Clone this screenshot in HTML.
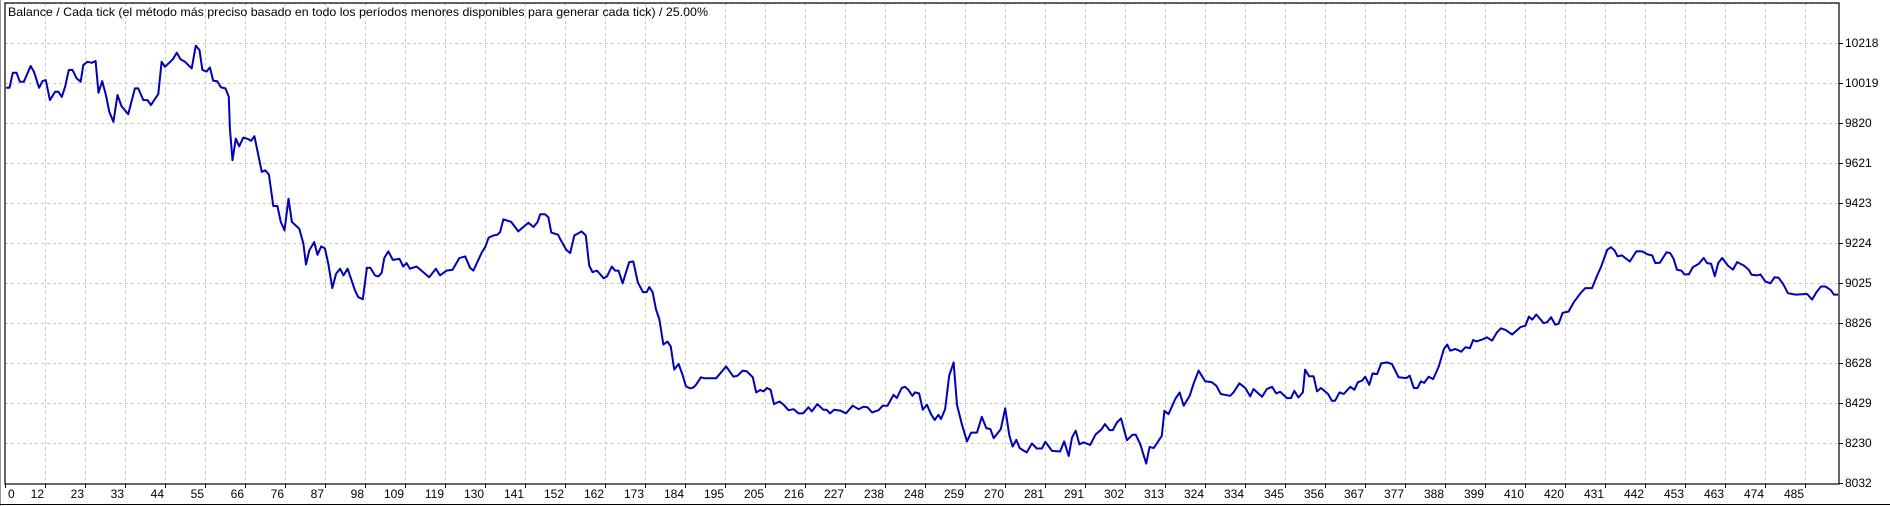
<!DOCTYPE html>
<html><head><meta charset="utf-8"><style>
html,body{margin:0;padding:0;background:#fff;}
svg{display:block;font-family:"Liberation Sans",sans-serif;}
</style></head><body>
<svg id="chart" width="1890" height="506" viewBox="0 0 1890 506" xmlns="http://www.w3.org/2000/svg">
<rect x="0" y="0" width="1890" height="506" fill="#fff"/>
<g id="grid"></g>
<g id="xaxis"></g>
<g id="yaxis"></g>
<path id="line" fill="none" stroke="#0000b8" stroke-width="2" stroke-linejoin="round"/>
<rect x="5" y="3" width="1834" height="481" fill="none" stroke="#000" stroke-width="1.2"/>
<line x1="0.5" y1="0" x2="0.5" y2="506" stroke="#999" stroke-width="1"/>
<line x1="0" y1="504.5" x2="1890" y2="504.5" stroke="#000" stroke-width="1"/>
<text x="8" y="16" font-size="12" textLength="700" lengthAdjust="spacingAndGlyphs" fill="#000">Balance / Cada tick (el método más preciso basado en todo los períodos menores disponibles para generar cada tick)  / 25.00%</text>
</svg>
<script>
const xTickLabels = [0,12,23,33,44,55,66,76,87,98,109,119,130,141,152,162,173,184,195,205,216,227,238,248,259,270,281,291,302,313,324,334,345,356,367,377,388,399,410,420,431,442,453,463,474,485];
const yTickLabels = [10218,10019,9820,9621,9423,9224,9025,8826,8628,8429,8230,8032];
const tradeIdx = [0.3,1.2,2.1,3.1,4.0,5.1,6.9,7.8,9.2,10.1,11.0,12.1,13.5,14.4,15.3,16.2,17.2,18.2,19.3,20.4,21.1,22.2,23.4,24.4,25.2,26.2,27.2,28.1,29.2,30.3,31.4,33.2,35.0,35.9,37.3,38.4,39.3,41.3,42.2,43.1,45.2,46.3,47.3,48.5,50.3,51.4,52.4,53.2,54.3,55.2,56.1,57.2,58.2,59.4,60.3,60.6,61.3,62.2,63.1,64.2,65.3,66.3,67.2,69.2,70.1,71.1,72.3,73.4,74.3,75.3,76.4,77.3,79.3,80.4,81.1,82.0,83.3,84.2,85.2,86.2,87.1,88.2,89.2,90.3,91.2,92.3,94.3,95.2,96.4,97.5,98.4,99.7,100.6,101.5,102.2,103.3,104.5,106.3,107.3,108.2,109.1,110.9,114.3,116.1,117.2,119.0,120.6,122.4,124.0,125.3,126.2,128.5,129.4,130.3,131.6,132.7,133.4,134.3,136.4,138.3,141.0,142.4,143.5,144.2,145.5,146.4,147.2,149.0,149.8,151.2,152.3,153.4,155.4,156.5,157.4,158.3,159.5,161.3,162.2,163.5,164.4,165.3,166.4,168.2,169.3,170.5,171.9,172.9,173.6,174.5,175.4,176.3,177.4,178.5,179.4,180.3,181.5,182.5,183.5,184.6,185.5,186.2,187.5,188.6,191.6,194.3,196.3,197.4,198.8,199.9,201.5,202.4,203.5,204.4,205.3,206.3,207.2,208.7,209.8,211.1,212.5,213.8,215.0,216.5,217.4,218.9,220.5,221.4,222.3,223.4,225.2,226.6,228.4,230.0,231.3,232.4,233.6,235.4,236.5,237.8,239.4,240.3,241.6,242.5,243.4,244.5,245.2,246.3,247.3,248.4,249.5,250.5,251.5,252.2,253.3,254.4,255.6,256.5,257.8,259.2,260.3,261.9,263.2,264.4,265.5,266.4,268.3,269.5,270.6,271.5,272.5,273.4,275.3,276.7,278.0,279.4,280.3,282.1,284.3,285.4,286.6,287.5,288.5,289.5,290.6,292.4,293.8,295.5,296.4,297.6,298.5,299.6,300.7,302.3,303.8,304.7,305.9,307.5,308.4,309.5,311.7,312.4,313.5,315.3,316.5,317.6,319.2,320.3,321.6,323.4,325.2,326.4,327.6,330.1,331.0,332.6,334.2,335.5,336.4,338.7,340.0,341.4,342.5,343.6,345.4,346.5,347.4,348.5,349.7,350.3,351.4,352.6,353.5,354.6,356.5,357.5,358.4,359.6,360.7,362.5,363.6,364.5,365.6,366.5,367.6,368.5,369.7,370.8,372.4,373.7,375.5,377.6,378.5,379.6,380.6,381.5,382.4,383.6,384.8,386.3,387.7,388.6,389.4,390.8,392.4,393.5,394.7,395.6,396.5,398.0,399.3,400.7,402.0,403.1,404.3,406.1,408.3,409.7,410.6,411.5,412.6,414.6,415.5,416.6,417.7,418.6,419.7,421.3,422.7,424.5,425.8,427.6,429.0,430.1,431.7,432.7,433.7,434.5,435.7,437.8,439.6,441.1,442.6,443.8,444.7,445.9,447.7,448.7,449.6,450.5,451.7,452.5,453.7,454.8,456.4,457.7,458.6,459.7,460.7,461.6,462.7,464.2,465.6,466.7,468.5,469.8,470.6,472.1,473.0,474.3,475.7,476.8,477.9,479.1,480.4,482.4,485.6,486.9,488.1,489.3,490.5,491.9,492.8,493.9];
const balance = [9996,9996,10071,10071,10026,10026,10104,10076,9996,10029,10034,9935,9976,9976,9951,10001,10084,10084,10043,10026,10109,10125,10120,10129,9971,10029,9960,9877,9827,9960,9905,9865,9993,9993,9935,9935,9910,9965,10125,10100,10137,10170,10137,10125,10092,10205,10183,10084,10076,10097,10031,10028,9998,9993,9951,9794,9637,9744,9706,9749,9743,9733,9756,9579,9587,9566,9410,9410,9331,9289,9446,9331,9297,9223,9120,9190,9231,9168,9210,9200,9124,9003,9074,9099,9066,9099,8991,8958,8948,9104,9104,9066,9061,9079,9153,9185,9143,9148,9110,9127,9099,9110,9057,9099,9066,9090,9094,9152,9160,9104,9090,9181,9206,9253,9264,9268,9281,9344,9331,9284,9327,9306,9331,9369,9369,9355,9278,9268,9239,9193,9177,9264,9284,9264,9115,9082,9090,9052,9061,9110,9090,9090,9027,9132,9135,9032,8983,8983,9008,8983,8897,8850,8723,8738,8713,8599,8627,8577,8516,8506,8511,8524,8561,8556,8556,8615,8564,8569,8594,8590,8561,8486,8498,8491,8508,8499,8428,8441,8425,8398,8403,8382,8382,8412,8392,8428,8400,8400,8382,8400,8395,8382,8420,8403,8415,8412,8387,8398,8420,8420,8474,8458,8508,8514,8499,8469,8486,8481,8400,8425,8378,8349,8375,8354,8403,8569,8635,8425,8329,8243,8287,8287,8365,8309,8304,8259,8304,8407,8274,8218,8251,8210,8188,8233,8208,8208,8241,8196,8193,8243,8171,8262,8296,8229,8238,8226,8276,8304,8329,8299,8299,8337,8357,8249,8276,8276,8229,8133,8216,8210,8271,8395,8378,8453,8486,8420,8469,8531,8594,8541,8536,8519,8478,8469,8486,8531,8508,8466,8503,8464,8503,8514,8481,8489,8458,8458,8494,8461,8486,8599,8566,8566,8491,8508,8478,8445,8445,8486,8478,8514,8499,8536,8544,8564,8523,8580,8577,8630,8635,8627,8561,8557,8569,8508,8508,8541,8533,8564,8552,8614,8701,8723,8693,8701,8688,8710,8705,8746,8739,8748,8759,8743,8784,8804,8796,8773,8809,8817,8862,8847,8872,8829,8834,8859,8822,8826,8880,8887,8933,8978,9003,9003,9066,9110,9193,9206,9190,9160,9165,9135,9186,9185,9170,9165,9127,9129,9181,9176,9148,9094,9090,9071,9071,9107,9124,9153,9127,9124,9062,9127,9153,9115,9095,9132,9115,9095,9069,9066,9071,9036,9027,9057,9054,9024,8978,8971,8974,8946,8983,9011,9011,8994,8971,8971];

const NS = 'http://www.w3.org/2000/svg';
const PL = 5, PT = 3, PR = 1839, PB = 484;
const GX0 = 5, GSTEP = 40, GY0 = 43;
function xScale(i){ return GX0 + i * (1800 / 485); }
function yScale(v){ return PB - (v - 8032) * (441 / 2186); }
function mk(tag, attrs, parent){
  const el = document.createElementNS(NS, tag);
  for (const k in attrs) el.setAttribute(k, attrs[k]);
  parent.appendChild(el);
  return el;
}
const grid = document.getElementById('grid');
const xaxis = document.getElementById('xaxis');
const yaxis = document.getElementById('yaxis');
xTickLabels.forEach((lab, k) => {
  const x = GX0 + GSTEP * k;
  if (k > 0) {
    const g = mk('line', {x1:x+0.5, y1:PT, x2:x+0.5, y2:PB, stroke:'#c8c8c8', 'stroke-dasharray':'3,3'}, grid);
    
    
  }
  const tk = mk('line', {x1:x+0.5, y1:PB, x2:x+0.5, y2:PB+4, stroke:'#000'}, xaxis);
  
  
  const t = mk('text', {x: k === 0 ? x + 3 : x - 1, y: 498, 'font-size': 12, 'text-anchor': k === 0 ? 'start' : 'end', fill:'#000'}, xaxis);
  t.textContent = lab;
  
  
});
const topLine = mk('line', {x1:PL, y1:PT+0.5, x2:PR, y2:PT+0.5, stroke:'#c8c8c8', 'stroke-dasharray':'3,3'}, grid);


yTickLabels.forEach((lab, k) => {
  const y = GY0 + GSTEP * k;
  if (k < yTickLabels.length - 1) {
    const g = mk('line', {x1:PL, y1:y+0.5, x2:PR, y2:y+0.5, stroke:'#c8c8c8', 'stroke-dasharray':'3,3'}, grid);
    
    
  }
  const tk = mk('line', {x1:PR, y1:y+0.5, x2:PR+4, y2:y+0.5, stroke:'#000'}, yaxis);
  
  
  const t = mk('text', {x: 1845, y: y + 4, 'font-size': 12, fill:'#000'}, yaxis);
  t.textContent = lab;
  
  
});
let d = '';
for (let j = 0; j < balance.length; j++) {
  d += (j ? 'L' : 'M') + xScale(tradeIdx[j]).toFixed(1) + ' ' + yScale(balance[j]).toFixed(1);
}
document.getElementById('line').setAttribute('d', d);
</script>
</body></html>
